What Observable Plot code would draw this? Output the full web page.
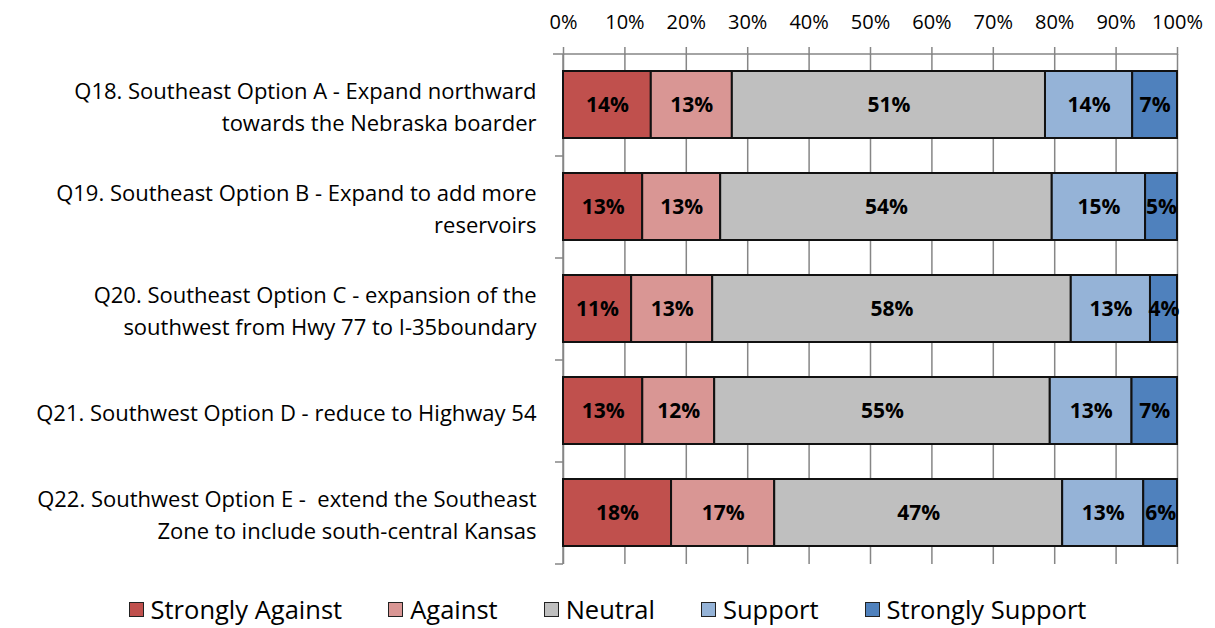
<!DOCTYPE html>
<html>
<head>
<meta charset="utf-8">
<script src="https://cdn.jsdelivr.net/npm/d3@7"></script>
<script src="https://cdn.jsdelivr.net/npm/@observablehq/plot@0.6"></script>
<style>
  html, body { margin: 0; padding: 0; background: #fff; }
  body { width: 1215px; height: 628px; overflow: hidden; font-family: "Open Sans", Lato, sans-serif; }
  #legend { display: flex; justify-content: center; align-items: center; gap: 46px; height: 43px; padding-top: 5px; box-sizing: border-box; font-size: 25.5px; color: #000; }
  #legend .item { display: flex; align-items: center; }
  #legend .sw { width: 13px; height: 13px; border: 1.5px solid #222; margin-right: 7px; }
</style>
</head>
<body>
<div id="chart"></div>
<div id="legend"></div>
<script>
const questions = [
  "Q18. Southeast Option A - Expand northward\ntowards the Nebraska boarder",
  "Q19. Southeast Option B - Expand to add more\nreservoirs",
  "Q20. Southeast Option C - expansion of the\nsouthwest from Hwy 77 to I-35boundary",
  "Q21. Southwest Option D - reduce to Highway 54",
  "Q22. Southwest Option E -  extend the Southeast\nZone to include south-central Kansas"
];
const responses = ["Strongly Against", "Against", "Neutral", "Support", "Strongly Support"];
const colors = ["#C0504D", "#D99694", "#BFBFBF", "#95B3D7", "#4F81BD"];
const stronglyAgainst = [14.3, 12.9, 11.1, 12.9, 17.6];
const against = [13.2, 12.7, 13.2, 11.7, 16.8];
const neutral = [51.0, 54.0, 58.4, 54.6, 46.9];
const support = [14.2, 15.2, 12.9, 13.3, 13.2];
const stronglySupport = [7.3, 5.2, 4.4, 7.4, 5.5];
const xTicks = [0, 0.1, 0.2, 0.3, 0.4, 0.5, 0.6, 0.7, 0.8, 0.9, 1.0];

const series = [stronglyAgainst, against, neutral, support, stronglySupport];
const data = [];
questions.forEach((q, i) => {
  responses.forEach((r, j) => {
    data.push({question: q, response: r, value: series[j][i]});
  });
});

const W = 1215, H = 585;
const mTop = 54, mBottom = 21, mLeft = 563, mRight = 38;

function axisLines(index, scales, values, dimensions) {
  const {width, height, marginLeft, marginRight, marginTop, marginBottom} = dimensions;
  const g = d3.create("svg:g").attr("stroke", "#868686").attr("stroke-width", 1.5).attr("fill", "none");
  const top = marginTop, bottom = height - marginBottom;
  const left = marginLeft, right = width - marginRight;
  const n = questions.length;
  g.append("line").attr("x1", left).attr("x2", left).attr("y1", top).attr("y2", bottom);
  g.append("line").attr("x1", left - 10).attr("x2", right).attr("y1", top).attr("y2", top);
  for (let i = 1; i <= n; i++) {
    const yy = top + i * (bottom - top) / n;
    g.append("line").attr("x1", left - 8).attr("x2", left).attr("y1", yy).attr("y2", yy);
  }
  return g.node();
}

const chart = Plot.plot({
  width: W,
  height: H,
  marginTop: mTop,
  marginBottom: mBottom,
  marginLeft: mLeft,
  marginRight: mRight,
  style: {fontFamily: "'Open Sans', Lato, sans-serif", background: "#fff", overflow: "visible"},
  x: {domain: [0, 1], axis: null},
  y: {domain: questions, paddingInner: 0.34, paddingOuter: 0.17, axis: null},
  color: {domain: responses, range: colors},
  marks: [
    Plot.gridX(xTicks, {stroke: "#868686", strokeOpacity: 1, strokeWidth: 1.5}),
    Plot.axisX(xTicks, {anchor: "top", tickSize: 8, tickPadding: 18, stroke: "#868686", strokeWidth: 1.5,
      tickFormat: d => Math.round(d * 100) + "%", fontSize: 20, fill: "#000", label: null}),
    axisLines,
    Plot.axisY({tickSize: 0, tickPadding: 27, fontSize: 22, fill: "#000", lineHeight: 1.45, label: null,
      tickFormat: d => d}),
    Plot.barX(data, Plot.stackX({x: "value", y: "question", fill: "response", offset: "normalize",
      stroke: "#111", strokeWidth: 2, inset: 0})),
    Plot.text(data, Plot.stackX({x: "value", y: "question", offset: "normalize",
      text: d => Math.round(d.value) + "%", fill: "#000", fontWeight: "bold", fontSize: 21}))
  ]
});
document.getElementById("chart").appendChild(chart);

const legend = document.getElementById("legend");
responses.forEach((r, j) => {
  const item = document.createElement("div");
  item.className = "item";
  const sw = document.createElement("div");
  sw.className = "sw";
  sw.style.background = colors[j];
  const t = document.createElement("span");
  t.textContent = r;
  item.appendChild(sw);
  item.appendChild(t);
  legend.appendChild(item);
});
</script>
</body>
</html>
